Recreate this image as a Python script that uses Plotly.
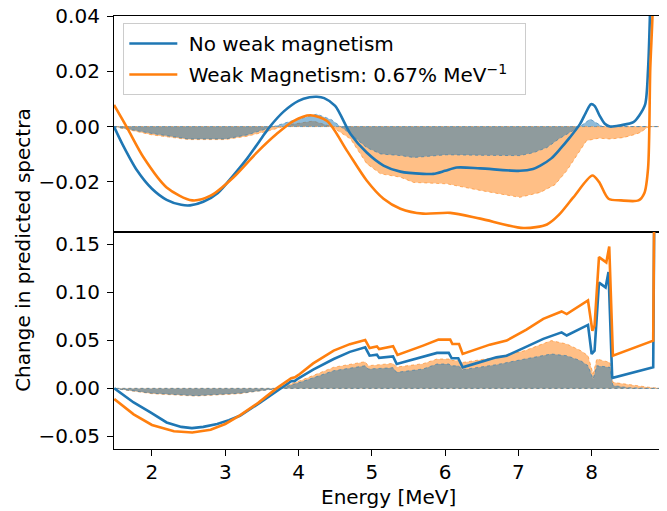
import plotly.graph_objects as go
from plotly.subplots import make_subplots

# ---------------- data ----------------
# Top panel
top_blue_x = [1.482, 1.6, 1.8, 2.0, 2.2, 2.4, 2.52, 2.7, 2.9, 3.1, 3.3, 3.5, 3.61, 3.8, 4.0, 4.15, 4.25,
              4.35, 4.5, 4.71, 4.93, 5.16, 5.39, 5.7, 5.84, 6.0, 6.16, 6.48, 7.02, 7.2, 7.3, 7.45, 7.57,
              7.7, 7.84, 7.92, 7.99, 8.04, 8.11, 8.18, 8.25, 8.4, 8.57, 8.65, 8.73, 8.77, 8.795, 8.82]
top_blue_y = [0.0, -0.0065, -0.016, -0.0225, -0.0265, -0.0283, -0.0285, -0.0272, -0.024, -0.018, -0.0115,
              -0.004, 0.0, 0.0055, 0.0093, 0.0106, 0.0108, 0.0103, 0.0075, -0.0027, -0.0094, -0.0141,
              -0.0163, -0.0171, -0.0171, -0.016, -0.0148, -0.0151, -0.016, -0.0153, -0.0141, -0.0115,
              -0.0081, -0.004, 0.0009, 0.005, 0.0081, 0.0075, 0.0039, 0.001, 0.0, 0.0005, 0.0016, 0.004,
              0.008, 0.021, 0.04, 0.07]

top_orange_x = [1.482, 1.66, 1.886, 2.2, 2.55, 2.8, 3.11, 3.43, 3.7, 3.93, 4.16, 4.39, 4.66, 4.93, 5.16,
                5.39, 5.7, 6.07, 6.48, 7.07, 7.39, 7.55, 7.75, 8.01, 8.1, 8.23, 8.4, 8.64, 8.72, 8.77,
                8.8, 8.83, 8.85]
top_orange_y = [0.0078, -0.0004, -0.0112, -0.022, -0.0267, -0.025, -0.0184, -0.0094, -0.0027, 0.002,
                0.0041, 0.002, -0.0087, -0.0195, -0.0261, -0.0297, -0.0315, -0.0312, -0.0333, -0.0367,
                -0.0354, -0.032, -0.0256, -0.0177, -0.02, -0.0261, -0.0267, -0.0267, -0.024, -0.015,
                0.021, 0.04, 0.07]

top_blue_band_x = [1.482, 2.0, 2.5, 3.0, 3.3, 3.6, 3.9, 4.25, 4.45, 4.71, 4.93, 5.12, 5.39, 5.57, 6.02,
                   6.5, 7.02, 7.2, 7.39, 7.55, 7.66, 7.84, 7.98, 8.15, 8.5, 8.96]
top_blue_band_y = [0.0, -0.0025, -0.0045, -0.0045, -0.003, -0.0005, 0.002, 0.0045, 0.0025, -0.0027,
                   -0.0076, -0.0099, -0.0105, -0.0112, -0.0102, -0.0104, -0.0105, -0.0095, -0.0076,
                   -0.0045, -0.0027, 0.0, 0.0027, 0.0, 0.0, 0.0]

top_orange_band_x = [1.482, 2.0, 2.5, 3.0, 3.3, 3.6, 3.9, 4.2, 4.45, 4.71, 4.93, 5.12, 5.39, 5.57, 6.02,
                     6.48, 7.02, 7.3, 7.5, 7.66, 7.93, 8.1, 8.25, 8.43, 8.57, 8.66, 8.78, 8.96]
top_orange_band_y = [0.0, -0.003, -0.0047, -0.0047, -0.0035, -0.0015, 0.0008, 0.002, 0.0, -0.0045,
                     -0.0134, -0.0171, -0.0183, -0.0202, -0.0207, -0.0231, -0.0256, -0.0238, -0.021,
                     -0.016, -0.0051, -0.0042, -0.0045, -0.004, -0.0030, -0.0022, 0.0, 0.0]

# Bottom panel
bot_blue_x = [1.486, 1.75, 1.98, 2.2, 2.4, 2.545, 2.7, 2.89, 3.05, 3.2, 3.48, 3.75, 3.9, 3.95, 4.0, 4.2,
              4.48, 4.7, 4.91, 4.97, 5.07, 5.1, 5.29, 5.34, 5.7, 5.89, 6.05, 6.09, 6.18, 6.24, 6.7, 6.84,
              7.09, 7.34, 7.59, 7.66, 7.95, 8.0, 8.04, 8.1, 8.19, 8.23, 8.28, 8.29, 8.84, 8.86]
bot_blue_y = [0.0, -0.0146, -0.025, -0.0354, -0.040, -0.0413, -0.040, -0.0371, -0.033, -0.0284, -0.0146,
              0.0, 0.0075, 0.0078, 0.0105, 0.0195, 0.0306, 0.038, 0.0427, 0.034, 0.035, 0.0317, 0.0333,
              0.0254, 0.033, 0.0369, 0.0369, 0.0313, 0.0313, 0.0219, 0.0323, 0.034, 0.0427, 0.0515,
              0.0583, 0.055, 0.066, 0.0358, 0.0393, 0.110, 0.105, 0.121, 0.0115, 0.011, 0.0219, 0.25]

bot_orange_x = [1.486, 1.75, 2.0, 2.3, 2.55, 2.8, 3.0, 3.2, 3.45, 3.7, 3.9, 3.95, 4.0, 4.2, 4.48, 4.7,
                4.91, 4.97, 5.07, 5.1, 5.29, 5.35, 5.7, 5.91, 6.07, 6.1, 6.19, 6.24, 6.61, 6.84, 7.11,
                7.34, 7.59, 7.66, 7.95, 8.01, 8.04, 8.1, 8.2, 8.24, 8.29, 8.84, 8.86]
bot_orange_y = [-0.011, -0.027, -0.038, -0.0445, -0.0458, -0.043, -0.037, -0.028, -0.015, 0.0, 0.0105,
                0.0115, 0.014, 0.026, 0.0393, 0.046, 0.0504, 0.042, 0.0437, 0.041, 0.0438, 0.0348,
                0.0445, 0.0507, 0.0507, 0.0462, 0.0462, 0.0358, 0.0455, 0.0497, 0.0611, 0.0723, 0.080,
                0.0773, 0.0914, 0.060, 0.0653, 0.1365, 0.131, 0.1476, 0.034, 0.0497, 0.25]

bot_blue_band_x = [1.482, 2.0, 2.6, 3.2, 3.75, 4.02, 4.48, 4.91, 4.95, 5.29, 5.34, 5.7, 5.89, 6.05, 6.09,
                   6.18, 6.24, 6.7, 7.09, 7.45, 7.66, 7.85, 7.95, 8.02, 8.07, 8.25, 8.29, 8.5, 8.8, 8.96]
bot_blue_band_y = [0.0, -0.005, -0.0076, -0.005, 0.0, 0.0063, 0.0184, 0.0236, 0.0202, 0.0215, 0.0167,
                   0.0202, 0.0254, 0.0254, 0.0235, 0.0235, 0.0195, 0.0247, 0.0306, 0.0358, 0.034, 0.0288,
                   0.0236, 0.0098, 0.0236, 0.0219, 0.003, 0.0008, 0.0, 0.0]

bot_orange_band_x = [1.482, 2.0, 2.6, 3.2, 3.7, 4.02, 4.48, 4.91, 4.95, 5.29, 5.34, 5.7, 5.89, 6.07, 6.09,
                     6.18, 6.24, 6.7, 7.09, 7.45, 7.66, 7.85, 7.95, 8.02, 8.07, 8.25, 8.29, 8.5, 8.8, 8.96]
bot_orange_band_y = [0.0, -0.0055, -0.008, -0.0055, 0.0, 0.008, 0.022, 0.0278, 0.0236, 0.026, 0.0222,
                     0.0257, 0.0306, 0.0306, 0.029, 0.029, 0.027, 0.0323, 0.0393, 0.0497, 0.0462, 0.0393,
                     0.034, 0.015, 0.0306, 0.027, 0.0063, 0.0038, 0.001, 0.0]

top_yticks = [-0.02, 0.0, 0.02, 0.04]
bot_yticks = [-0.05, 0.0, 0.05, 0.10, 0.15]
x_ticks = [2, 3, 4, 5, 6, 7, 8]

label_blue = "\u00a0No weak magnetism"
label_orange = "\u00a0Weak Magnetism: 0.67% MeV<sup>\u22121</sup>\u00a0\u00a0"

# ---------------- styles ----------------
BLUE = "#1f77b4"
ORANGE = "#ff7f0e"
FONT = "DejaVu Sans"
FS = 20

fig = make_subplots(rows=2, cols=1, shared_xaxes=True, vertical_spacing=0)


def band(xs, ys, fill, edge, row):
    px = list(xs) + list(xs[::-1])
    py = list(ys) + [0.0] * len(xs)
    fig.add_trace(go.Scatter(x=px, y=py, mode="lines", fill="toself", fillcolor=fill,
                             line=dict(color=edge, width=1, dash="dot"),
                             showlegend=False, hoverinfo="skip"), row=row, col=1)


panels = [
    (top_orange_band_x, top_orange_band_y, top_blue_band_x, top_blue_band_y,
     top_blue_x, top_blue_y, top_orange_x, top_orange_y, "spline"),
    (bot_orange_band_x, bot_orange_band_y, bot_blue_band_x, bot_blue_band_y,
     bot_blue_x, bot_blue_y, bot_orange_x, bot_orange_y, "linear"),
]
for row, (obx, oby, bbx, bby, blx, bly, olx, oly, shape) in enumerate(panels, start=1):
    band(obx, oby, "rgba(255,127,14,0.5)", "rgba(255,127,14,0.55)", row)
    band(bbx, bby, "rgba(31,119,180,0.5)", "rgba(31,119,180,0.55)", row)
    fig.add_trace(go.Scatter(x=blx, y=bly, mode="lines",
                             line=dict(color=BLUE, width=2.6, shape=shape, smoothing=0.8),
                             name=label_blue, legendgroup="a", showlegend=(row == 1)), row=row, col=1)
    fig.add_trace(go.Scatter(x=olx, y=oly, mode="lines",
                             line=dict(color=ORANGE, width=2.6, shape=shape, smoothing=0.8),
                             name=label_orange, legendgroup="b", showlegend=(row == 1)), row=row, col=1)

axis_common = dict(showline=True, linecolor="black", linewidth=1.2, mirror=True,
                   showgrid=False, zeroline=False, ticks="outside", ticklen=6, tickwidth=1.1,
                   tickcolor="black", tickfont=dict(family=FONT, size=FS, color="black"),
                   ticklabeloverflow="allow", automargin=False)

fig.update_xaxes(range=[1.482, 8.96], **axis_common)
fig.update_xaxes(ticks="", showticklabels=False, row=1, col=1)
fig.update_xaxes(tickvals=x_ticks, ticktext=[str(v) for v in x_ticks], ticklabelstandoff=-1,
                 row=2, col=1)
fig.update_yaxes(ticklabelstandoff=3, **axis_common)
fig.update_yaxes(range=[-0.038, 0.04], tickvals=top_yticks,
                 ticktext=[f"{v:.2f}".replace("-", "\u2212") for v in top_yticks], row=1, col=1)
fig.update_yaxes(range=[-0.063, 0.163], tickvals=bot_yticks,
                 ticktext=[f"{v:.2f}".replace("-", "\u2212") for v in bot_yticks], row=2, col=1)
fig.update_layout(yaxis=dict(domain=[0.502, 1.0]), yaxis2=dict(domain=[0.0, 0.502]))

fig.add_annotation(text="Change in predicted spectra", xref="paper", yref="paper",
                   x=-0.166, y=0.46, textangle=-90, showarrow=False, xanchor="center",
                   yanchor="middle", font=dict(family=FONT, size=FS, color="black"))
fig.add_annotation(text="Energy [MeV]", xref="paper", yref="paper", x=0.5, y=-0.112,
                   showarrow=False, xanchor="center", yanchor="middle",
                   font=dict(family=FONT, size=FS, color="black"))

fig.update_layout(
    width=659, height=503,
    margin=dict(l=106, r=5, t=7.5, b=62, autoexpand=False),
    paper_bgcolor="white", plot_bgcolor="white",
    font=dict(family=FONT, size=FS, color="black"),
    showlegend=True,
    legend=dict(x=0.017, y=0.984, xanchor="left", yanchor="top",
                bgcolor="rgba(255,255,255,0.8)", bordercolor="#cccccc", borderwidth=1,
                font=dict(family=FONT, size=FS, color="black"), itemwidth=48,
                traceorder="grouped", tracegroupgap=2),
)

fig.write_html("out.html")
